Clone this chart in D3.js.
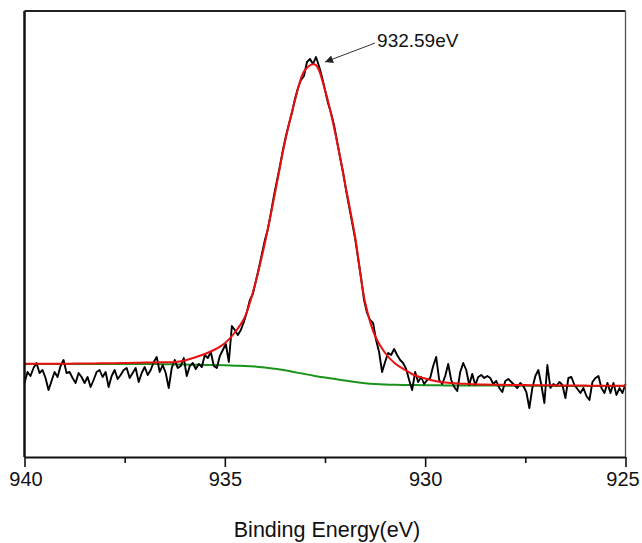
<!DOCTYPE html>
<html><head><meta charset="utf-8">
<script src="https://cdn.jsdelivr.net/npm/d3@7"></script>
<style>body{margin:0;background:#fff}svg{display:block}</style></head>
<body><svg id="c" width="642" height="543"></svg>
<script>
// ---- data ----
const energyStart = 940, energyStep = 0.075;   // raw spectrum grid (eV)
const rawIntensity = [
75,86,82,90,95,85,88,80,68,77,
86,81,92,98,85,86,80,75,85,81,
75,81,71,78,86,88,81,86,71,82,
88,79,83,88,90,80,85,90,76,85,
91,83,88,96,101,86,93,85,70,90,
98,90,92,100,82,92,95,89,94,91,
103,100,106,92,90,102,108,114,96,132,
128,123,128,136,146,158,164,177,190,204,
218,229,245,262,277,292,308,322,334,345,
359,370,378,382,396,399,394,401,392,381,
368,355,345,333,317,301,286,268,252,236,
220,200,180,158,145,138,135,118,106,86,
96,105,103,109,103,98,95,89,78,68,
86,76,81,74,78,80,92,101,78,74,
82,94,78,71,67,86,95,88,73,84,
73,81,83,80,82,80,74,77,70,66,
77,79,76,73,70,75,72,66,50,70,
82,88,73,55,93,70,74,72,76,73,
60,80,81,73,69,65,70,62,58,76,
80,82,70,65,75,65,75,63,70,65,
74];
const fitStep = 0.25;   // fitted curves grid (eV)
const envelope = [
94.2,94.2,94.2,94.3,94.3,94.4,94.5,94.6,94.7,94.8,
95.0,95.2,95.4,95.6,95.8,96.0,97.5,100.5,104,108.5,
114.8,125.5,141,173,215,264.5,316,357.5,388,393.5,
368,326,274.5,221.5,156,122,105,94.5,88,82.5,
79.5,77,75.4,74.7,74.2,73.7,73.4,73.2,73.1,73.0,
72.9,72.8,72.7,72.6,72.5,72.5,72.4,72.3,72.3,72.2,
72.2];
const background = [
94.0,94.0,94.0,94.0,94.0,94.0,94.0,94.0,94.0,94.0,
94.0,94.0,94.0,93.9,93.8,93.6,93.4,93.2,93.0,92.9,
92.7,92.3,92.0,91.4,90.4,89.2,87.7,85.8,83.9,82.1,
80.5,79.0,77.4,76.0,74.8,74.0,73.5,73.2,73.0,72.9,
72.8,72.7,72.6,72.6,72.5,72.5,72.4,72.4,72.3,72.3,
72.2,72.2,72.2,72.1,72.1,72.1,72.0,72.0,72.0,71.9,
71.9];
const majorTicks = [940, 935, 930, 925];
const minorTicks = [937.5, 932.5, 927.5];
const xDomain = [940, 925];
const yDomain = [0, 447];
const peakLabel = "932.59eV";
const arrowTip = {e: 932.5, v: 396};
const arrowTail = {e: 931.25, v: 415};
const xTitle = "Binding Energy(eV)";

// ---- layout ----
const L = 24.5, R = 625.5, T = 11, B = 457;
const svg = d3.select("#c");
const x = d3.scaleLinear().domain(xDomain).range([L, R]);
const y = d3.scaleLinear().domain(yDomain).range([458, 11]);
const font = "'Liberation Sans', Arial, sans-serif";

const raw = rawIntensity.map((v, i) => [energyStart - energyStep * i, v]);
const env = envelope.map((v, i) => [energyStart - fitStep * i, v]);
const bg = background.map((v, i) => [energyStart - fitStep * i, v]);

const lineLin = d3.line().x(d => x(d[0])).y(d => y(d[1]));
const lineSmooth = d3.line().x(d => x(d[0])).y(d => y(d[1])).curve(d3.curveCatmullRom.alpha(0.5));

const g = svg.append("g");
g.append("path").attr("d", lineSmooth(bg)).attr("fill", "none").attr("stroke", "#1a931a").attr("stroke-width", 2);
g.append("path").attr("d", lineLin(raw)).attr("fill", "none").attr("stroke", "#000").attr("stroke-width", 1.9).attr("stroke-linejoin", "round");
g.append("path").attr("d", lineSmooth(env)).attr("fill", "none").attr("stroke", "#ea1010").attr("stroke-width", 2);

// frame
svg.append("line").attr("x1", L).attr("x2", L).attr("y1", T).attr("y2", B).attr("stroke", "#111").attr("stroke-width", 2.5);
svg.append("line").attr("x1", L).attr("x2", R).attr("y1", T).attr("y2", T).attr("stroke", "#222").attr("stroke-width", 2);
svg.append("line").attr("x1", R).attr("x2", R).attr("y1", T).attr("y2", B).attr("stroke", "#555").attr("stroke-width", 1.3);

// bottom axis
const ax = svg.append("g").attr("transform", `translate(0,${B})`)
  .call(d3.axisBottom(x).tickValues(majorTicks).tickSize(10).tickFormat(d3.format("d")).tickSizeOuter(0));
ax.select(".domain").attr("stroke", "#111").attr("stroke-width", 2);
ax.selectAll(".tick line").attr("stroke", "#111").attr("stroke-width", 1.6);
ax.selectAll(".tick text").attr("font-family", font).attr("font-size", 20).attr("fill", "#111")
  .attr("dy", null).attr("y", 29)
  .attr("dx", (d, i, n) => i === n.length - 1 ? -3 : (i === 0 ? 1 : 0));
const axm = svg.append("g").attr("transform", `translate(0,${B})`)
  .call(d3.axisBottom(x).tickValues(minorTicks).tickSize(6).tickFormat("").tickSizeOuter(0));
axm.select(".domain").remove();
axm.selectAll(".tick line").attr("stroke", "#111").attr("stroke-width", 1.6);

// axis title
svg.append("text").attr("x", (L + R) / 2 + 2).attr("y", 537).attr("text-anchor", "middle")
  .attr("font-family", font).attr("font-size", 21.5).attr("fill", "#111").text(xTitle);

// annotation
svg.append("defs").append("marker").attr("id", "ah").attr("viewBox", "0 0 10 10")
  .attr("refX", 10).attr("refY", 5).attr("markerWidth", 11).attr("markerHeight", 8)
  .attr("markerUnits", "userSpaceOnUse").attr("orient", "auto")
  .append("path").attr("d", "M0,0 L10,5 L0,10 Z").attr("fill", "#222");
svg.append("line").attr("x1", x(arrowTail.e)).attr("y1", y(arrowTail.v))
  .attr("x2", x(arrowTip.e)).attr("y2", y(arrowTip.v))
  .attr("stroke", "#333").attr("stroke-width", 1).attr("marker-end", "url(#ah)");
svg.append("text").attr("x", x(arrowTail.e) + 2).attr("y", y(arrowTail.v) + 4)
  .attr("font-family", font).attr("font-size", 19).attr("fill", "#111").text(peakLabel);
</script>
</body></html>
